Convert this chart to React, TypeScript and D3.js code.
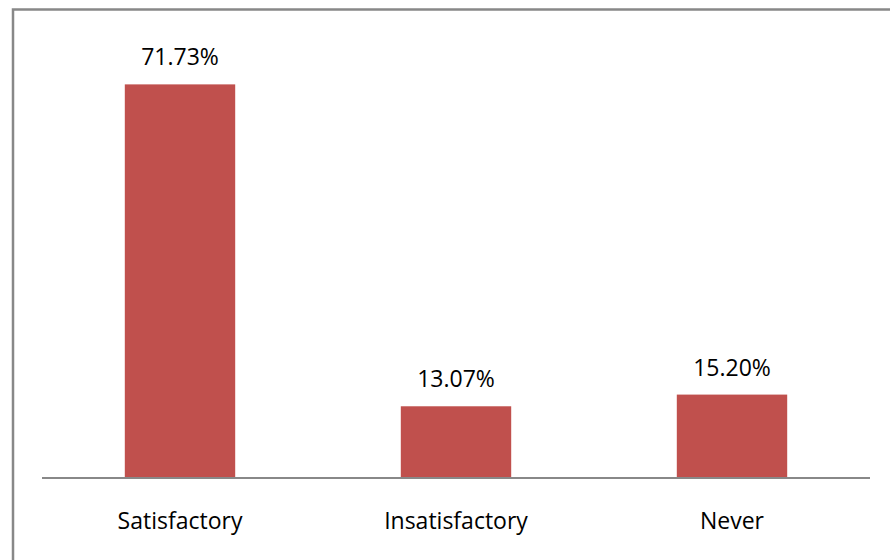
import React from "react";
import * as d3 from "d3";

const categories = ["Satisfactory", "Insatisfactory", "Never"];
const values = [71.73, 13.07, 15.2];
const valueLabels = ["71.73%", "13.07%", "15.20%"];

export default function App() {
  const W = 890;
  const H = 560;
  const plotLeft = 42;
  const plotRight = 870;
  const baseY = 478;
  const topY = 39;

  const x = d3.scaleBand<string>().domain(categories).range([plotLeft, plotRight]).paddingInner(0.6).paddingOuter(0.3);
  const y = d3.scaleLinear().domain([0, 80]).range([baseY, topY]);
  const font = "'Open Sans', 'Liberation Sans', sans-serif";

  return (
    <svg
      width={W}
      height={H}
      style={{ position: "fixed", left: 0, top: 0, background: "#fff" }}
    >
      <rect x={0} y={0} width={W} height={H} fill="#fff" />
      <rect x={13} y={9.5} width={W + 20} height={H + 20} fill="none" stroke="#888" strokeWidth={2.5} />
      {categories.map((c, i) => (
        <g key={c}>
          <rect
            x={x(c)!}
            y={y(values[i])}
            width={x.bandwidth()}
            height={baseY - y(values[i])}
            fill="#C0504D"
          />
          <text
            x={x(c)! + x.bandwidth() / 2}
            y={y(values[i]) - 19}
            textAnchor="middle"
            fontFamily={font}
            fontSize={23}
            fill="#000"
          >
            {valueLabels[i]}
          </text>
          <text
            x={x(c)! + x.bandwidth() / 2}
            y={529}
            textAnchor="middle"
            fontFamily={font}
            fontSize={23}
            fill="#000"
          >
            {c}
          </text>
        </g>
      ))}
      <line x1={plotLeft} x2={plotRight} y1={baseY} y2={baseY} stroke="#888" strokeWidth={2} />
    </svg>
  );
}
